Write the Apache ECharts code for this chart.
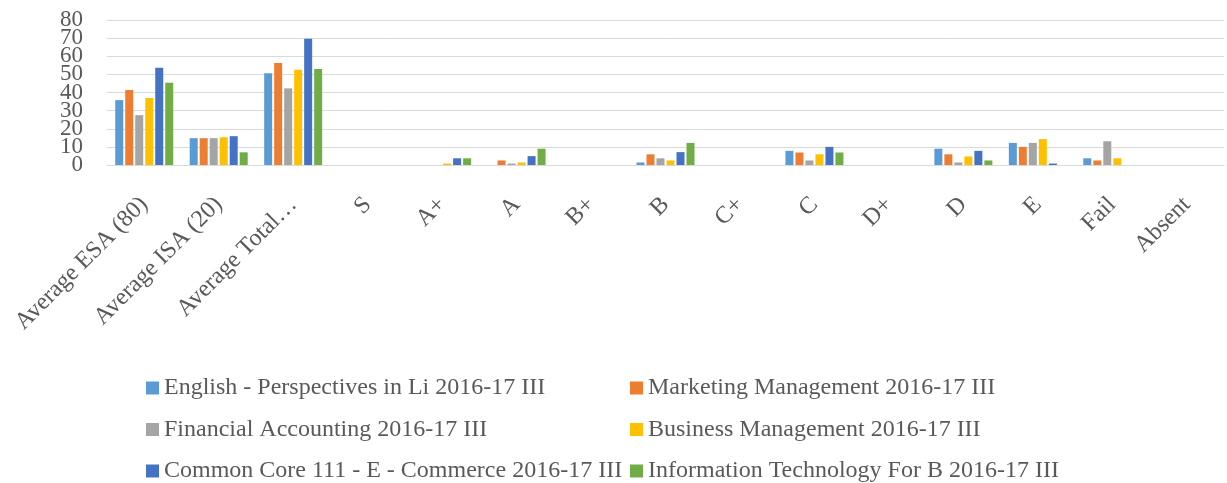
<!DOCTYPE html>
<html>
<head>
<meta charset="utf-8">
<script src="https://cdn.jsdelivr.net/npm/echarts@6/dist/echarts.min.js"></script>
<style>html,body{margin:0;padding:0;background:#fff}#c{width:1227px;height:483px}</style>
</head>
<body>
<div id="c"></div>
<script>
const categories = ["Average ESA (80)", "Average ISA (20)", "Average Total…", "S", "A+", "A", "B+", "B", "C+", "C", "D+", "D", "E", "Fail", "Absent"];
const yTickLabels = ["0", "10", "20", "30", "40", "50", "60", "70", "80"];
const seriesNames = [
  "English - Perspectives in Li 2016-17 III",
  "Marketing Management 2016-17 III",
  "Financial Accounting 2016-17 III",
  "Business Management 2016-17 III",
  "Common Core 111 - E - Commerce 2016-17 III",
  "Information Technology For B 2016-17 III"
];
const english    = [35.8, 14.8, 50.6, 0, 0,   0,   0, 1.4, 0, 7.8, 0, 9.0, 12.2, 3.7, 0];
const marketing  = [41.4, 14.8, 56.3, 0, 0,   2.5, 0, 5.9, 0, 6.9, 0, 5.9, 10.0, 2.5, 0];
const financial  = [27.5, 14.8, 42.3, 0, 0,   0.8, 0, 3.7, 0, 2.5, 0, 1.4, 12.2, 13.1, 0];
const business   = [37.0, 15.3, 52.5, 0, 0.8, 1.4, 0, 2.5, 0, 5.9, 0, 4.7, 14.3, 3.7, 0];
const commerce   = [53.6, 15.9, 69.6, 0, 3.7, 4.9, 0, 7.1, 0, 10.0, 0, 7.8, 0.8, 0, 0];
const infotech   = [45.4, 7.0,  52.9, 0, 3.7, 9.0, 0, 12.2, 0, 6.9, 0, 2.5, 0, 0, 0];
const seriesValues = [english, marketing, financial, business, commerce, infotech];
const colors = ["#5B9BD5", "#ED7D31", "#A5A5A5", "#FFC000", "#4472C4", "#70AD47"];

const font = "'Liberation Serif', 'DejaVu Serif', serif";
const chart = echarts.init(document.getElementById('c'), null, {renderer: 'canvas'});
const legendBase = {
  orient: 'vertical', icon: 'rect', itemWidth: 13, itemHeight: 13, itemGap: 17.5,
  top: 376, padding: 0, height: 110, selectedMode: false,
  textStyle: {fontFamily: font, fontSize: 24, color: '#595959', lineHeight: 24}
};
chart.setOption({
  animation: false,
  color: colors,
  grid: {left: 107, right: 3, top: 20, bottom: 318, containLabel: false},
  legend: [
    Object.assign({}, legendBase, {left: 146, data: [seriesNames[0], seriesNames[2], seriesNames[4]]}),
    Object.assign({}, legendBase, {left: 630, data: [seriesNames[1], seriesNames[3], seriesNames[5]]})
  ],
  xAxis: {
    type: 'category', data: categories,
    axisLine: {show: true, lineStyle: {color: '#D9D9D9', width: 1}},
    axisTick: {show: false},
    axisLabel: {rotate: 45, interval: 0, margin: 36, fontFamily: font, fontSize: 24, color: '#595959'}
  },
  yAxis: [
    {
      type: 'value', min: 0, max: 80, interval: 10,
      axisLine: {show: false}, axisTick: {show: false},
      splitLine: {lineStyle: {color: '#D9D9D9', width: 1}},
      axisLabel: {show: false}
    },
    {
      type: 'category', data: yTickLabels, boundaryGap: false, position: 'left',
      axisLine: {show: false}, axisTick: {show: false}, splitLine: {show: false},
      axisLabel: {interval: 0, margin: 24, fontFamily: font, fontSize: 23, color: '#595959'}
    }
  ],
  series: seriesNames.map((n, i) => ({
    name: n, type: 'bar', yAxisIndex: 0, data: seriesValues[i], barWidth: 8, barGap: '25%',
    itemStyle: {color: colors[i]}
  }))
});
</script>
</body>
</html>
